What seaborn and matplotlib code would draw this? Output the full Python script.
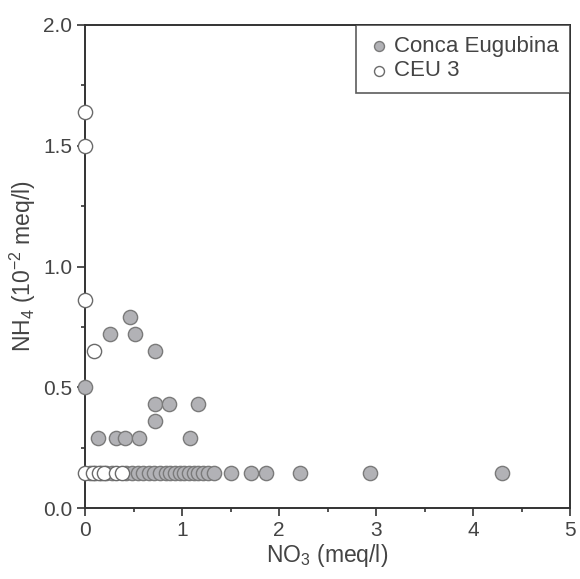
import matplotlib
matplotlib.use("Agg")
import matplotlib.pyplot as plt
import seaborn as sns
import pandas as pd
from matplotlib.ticker import MultipleLocator, FormatStrFormatter

sns.set_style("ticks")
plt.rcParams["font.family"] = ["Liberation Sans", "DejaVu Sans"]
plt.rcParams["mathtext.default"] = "regular"

# Conca Eugubina wells: NO3 (meq/l) and NH4 (10^-2 meq/l)
conca_no3 = [0.00, 0.13, 0.32, 0.41, 0.56, 1.08, 0.72, 0.87, 1.16, 0.72,
             0.46, 0.26, 0.52, 0.72,
             0.05, 0.10, 0.16, 0.22, 0.28, 0.42, 0.48, 0.55, 0.60, 0.66,
             0.71, 0.77, 0.83, 0.88, 0.93, 0.98, 1.02, 1.07, 1.12, 1.17,
             1.22, 1.27, 1.33, 1.51, 1.71, 1.87, 2.22, 2.94, 4.30]
conca_nh4 = [0.50, 0.29, 0.29, 0.29, 0.29, 0.29, 0.43, 0.43, 0.43, 0.36,
             0.79, 0.72, 0.72, 0.65,
             0.143, 0.143, 0.143, 0.143, 0.143, 0.143, 0.143, 0.143, 0.143, 0.143,
             0.143, 0.143, 0.143, 0.143, 0.143, 0.143, 0.143, 0.143, 0.143, 0.143,
             0.143, 0.143, 0.143, 0.143, 0.143, 0.143, 0.143, 0.143, 0.143]

# CEU 3 spring
ceu_no3 = [0.00, 0.00, 0.00, 0.09, 0.00, 0.08, 0.14, 0.20, 0.32, 0.38]
ceu_nh4 = [1.64, 1.50, 0.86, 0.65, 0.143, 0.143, 0.143, 0.143, 0.143, 0.143]

conca = pd.DataFrame({"NO3": conca_no3, "NH4": conca_nh4})
ceu = pd.DataFrame({"NO3": ceu_no3, "NH4": ceu_nh4})

fig = plt.figure(figsize=(5.80, 5.79), dpi=100)
ax = fig.add_axes([85 / 580, 1 - 508 / 579, 485 / 580, 483 / 579])

sns.scatterplot(data=conca, x="NO3", y="NH4", ax=ax, s=105,
                color="#b2b2b6", edgecolor="#7a7a7a", linewidth=1.0,
                label="Conca Eugubina", zorder=3, clip_on=False)
sns.scatterplot(data=ceu, x="NO3", y="NH4", ax=ax, s=105,
                color="white", edgecolor="#6a6a6a", linewidth=1.0,
                label="CEU 3", zorder=4, clip_on=False)

ax.set_xlim(0, 5)
ax.set_ylim(0, 2.0)
ax.xaxis.set_major_locator(MultipleLocator(1))
ax.xaxis.set_minor_locator(MultipleLocator(0.5))
ax.yaxis.set_major_locator(MultipleLocator(0.5))
ax.yaxis.set_minor_locator(MultipleLocator(0.25))
ax.yaxis.set_major_formatter(FormatStrFormatter("%.1f"))

ax.tick_params(axis="both", which="major", direction="out", length=6, width=1.2,
               labelsize=15, colors="#333333", labelcolor="#444444", pad=3)
ax.tick_params(axis="both", which="minor", direction="out", length=3, width=1.2,
               colors="#333333")
for sp in ax.spines.values():
    sp.set_visible(True)
    sp.set_linewidth(1.4)
    sp.set_color("#333333")

ax.set_xlabel("NO$_3$ (meq/l)", fontsize=16.5, color="#444444", labelpad=2)
ax.set_ylabel("NH$_4$ (10$^{-2}$ meq/l)", fontsize=16.5, color="#444444", labelpad=4)

leg = ax.legend(loc="upper right", fontsize=16, frameon=True, fancybox=False,
                edgecolor="#333333", handletextpad=0.2, borderpad=0.5,
                labelspacing=0.15, handlelength=1.0, borderaxespad=0.0,
                markerscale=0.7)
leg.get_frame().set_linewidth(1.2)
for t in leg.get_texts():
    t.set_color("#444444")

fig.savefig("out.png", dpi=100)
